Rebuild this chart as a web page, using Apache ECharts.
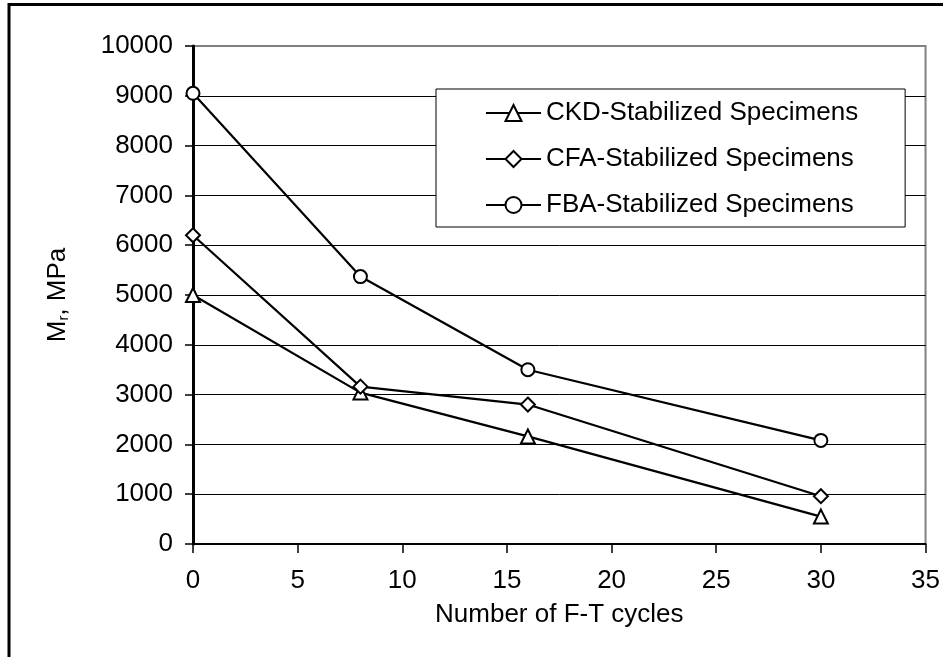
<!DOCTYPE html>
<html>
<head>
<meta charset="utf-8">
<script src="https://cdn.jsdelivr.net/npm/echarts@6/dist/echarts.min.js"></script>
<style>html,body{margin:0;padding:0;background:#fff;}#c{width:943px;height:657px;}</style>
</head>
<body>
<div id="c"></div>
<script>
var cycles = [0, 8, 16, 30];
var ckd = [5000, 3040, 2160, 550];
var cfa = [6200, 3160, 2800, 960];
var fba = [9050, 5370, 3500, 2080];
var seriesNames = ['CKD-Stabilized Specimens', 'CFA-Stabilized Specimens', 'FBA-Stabilized Specimens'];
var xTitle = 'Number of F-T cycles';

function pairs(v) { return cycles.map(function (c, i) { return [c, v[i]]; }); }

var FONT = 'Arial, "Liberation Sans", sans-serif';
var chart = echarts.init(document.getElementById('c'));
function mk(name, data, symbol, size) {
  return {
    name: name, type: 'line', data: pairs(data), symbol: symbol, symbolSize: size,
    lineStyle: { color: '#000', width: 2.2 },
    itemStyle: { color: '#fff', borderColor: '#000', borderWidth: 2 },
    emphasis: { disabled: true }, animation: false
  };
}
chart.setOption({
  animation: false,
  graphic: [{
    type: 'rect', shape: { x: 9, y: 4.5, width: 1000, height: 800 },
    style: { fill: 'none', stroke: '#000', lineWidth: 3 }, z: 100
  }],
  grid: { left: 193, right: 16, top: 46, bottom: 113, show: true, borderColor: '#808080', borderWidth: 2, backgroundColor: '#fff' },
  legend: {
    orient: 'vertical', left: 436, top: 89,
    padding: [11, 47, 9, 49], itemGap: 20, itemWidth: 55, itemHeight: 20,
    backgroundColor: '#fff', borderColor: '#000', borderWidth: 1,
    textStyle: { fontFamily: FONT, fontSize: 26, color: '#000', lineHeight: 26, padding: [0, 0, 0, 0] },
    data: seriesNames
  },
  xAxis: {
    type: 'value', min: 0, max: 35, interval: 5,
    name: xTitle, nameLocation: 'middle', nameGap: 58,
    nameTextStyle: { fontFamily: FONT, fontSize: 26, color: '#000' },
    axisLine: { show: true, onZero: false, lineStyle: { color: '#000', width: 2 } },
    axisTick: { show: true, inside: false, length: 9, lineStyle: { color: '#000', width: 1.5 } },
    axisLabel: { fontFamily: FONT, fontSize: 26, color: '#000', margin: 24, formatter: function (v) { return String(v); } },
    splitLine: { show: false }
  },
  yAxis: {
    type: 'value', min: 0, max: 10000, interval: 1000,
    name: '{a|M}{s|r}{a|, MPa}', nameLocation: 'middle', nameGap: 122, nameRotate: 90,
    nameTextStyle: { fontFamily: FONT, color: '#000', rich: { a: { fontFamily: FONT, fontSize: 26, color: '#000' }, s: { fontFamily: FONT, fontSize: 15, color: '#000', verticalAlign: 'bottom', padding: [10, 0, 0, 0] } } },
    axisLine: { show: true, lineStyle: { color: '#000', width: 3 } },
    axisTick: { show: true, inside: false, length: 8, lineStyle: { color: '#000', width: 1.5 } },
    axisLabel: { fontFamily: FONT, fontSize: 26, color: '#000', margin: 20, formatter: function (v) { return String(v); } },
    splitLine: { show: true, showMaxLine: false, lineStyle: { color: '#000', width: 1 } }
  },
  series: [
    mk(seriesNames[0], ckd, 'triangle', 14),
    mk(seriesNames[1], cfa, 'diamond', 14),
    mk(seriesNames[2], fba, 'circle', 13)
  ]
});
</script>
</body>
</html>
